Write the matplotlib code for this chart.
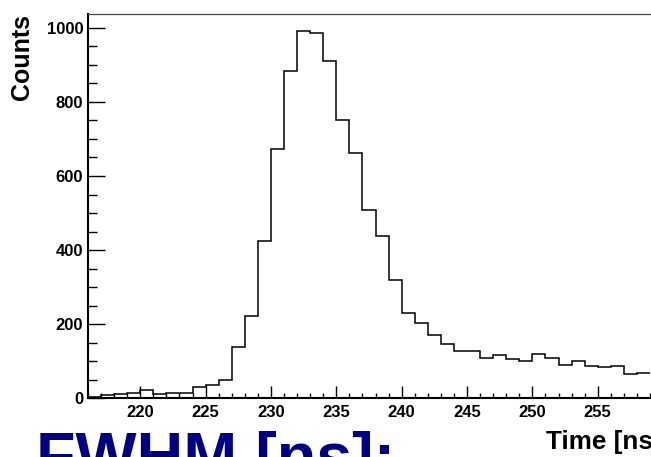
import matplotlib.pyplot as plt
import numpy as np
from matplotlib.ticker import MultipleLocator, FixedLocator

# Histogram of arrival times, 1 ns bins starting at 216 ns
bin_start = 216
bin_width = 1
counts = [4, 9, 12, 15, 22, 11, 15, 15, 31, 37,
          49, 138, 221, 424, 673, 883, 990, 985, 911, 752,
          661, 508, 438, 319, 229, 203, 171, 147, 129, 129,
          110, 116, 105, 101, 120, 108, 91, 101, 88, 84,
          88, 66, 69]
x_major_ticks = [220, 225, 230, 235, 240, 245, 250, 255]

x_label = "Time [ns]"
y_label = "Counts"
fwhm_text = "FWHM [ns]:"

edges = bin_start + bin_width * np.arange(len(counts) + 1)

plt.rcParams['font.family'] = ['Liberation Sans', 'DejaVu Sans']
plt.rcParams['font.weight'] = 'bold'

W, H = 651, 457
fig = plt.figure(figsize=(W / 100, H / 100), dpi=100)

# axes frame: left edge at 88 px, top at ~14 px, bottom at ~398 px; right side runs off the picture
ax_left, ax_top, ax_bottom = 88, 13.7, 398.3
x_min, x_max = 216, 262
px_per_ns = 13.07
ax = fig.add_axes([ax_left / W, (H - ax_bottom) / H,
                   (x_max - x_min) * px_per_ns / W, (ax_bottom - ax_top) / H])

ax.stairs(counts, edges, baseline=None, color='black', linewidth=1.1)

ax.set_xlim(x_min, x_max)
ax.set_ylim(0, 1038)

ax.xaxis.set_major_locator(FixedLocator(x_major_ticks))
ax.xaxis.set_minor_locator(MultipleLocator(1))
ax.yaxis.set_major_locator(MultipleLocator(200))
ax.yaxis.set_minor_locator(MultipleLocator(50))

ax.tick_params(which='both', direction='in', top=False, right=False, width=1.0, colors='black')
ax.tick_params(axis='x', which='major', length=8.5, pad=5, labelsize=12)
ax.tick_params(axis='x', which='minor', length=3.8)
ax.tick_params(axis='y', which='major', length=12.5, pad=3.5, labelsize=12)
ax.tick_params(axis='y', which='minor', length=6.5)
for lab in ax.get_xticklabels() + ax.get_yticklabels():
    lab.set_fontweight('bold')

for side in ('left', 'bottom'):
    ax.spines[side].set_linewidth(1.5)
    ax.spines[side].set_color('black')
ax.spines['top'].set_linewidth(0.9)
ax.spines['top'].set_color('#444444')
ax.spines['right'].set_visible(False)

# axis titles in ROOT style
fig.text(22 / W, 1 - 14.5 / H, y_label, rotation=90, ha='center', va='top',
         fontsize=18, fontweight='bold')
fig.text(546 / W, (H - 448.5) / H, x_label, ha='left', va='baseline',
         fontsize=18.8, fontweight='bold')

# large label below the pad (cut off by the frame)
fig.text(36 / W, (H - 478) / H, fwhm_text, ha='left', va='baseline',
         fontsize=46.5, fontweight='bold', color='#000080')

fig.savefig('out.png', dpi=100)
